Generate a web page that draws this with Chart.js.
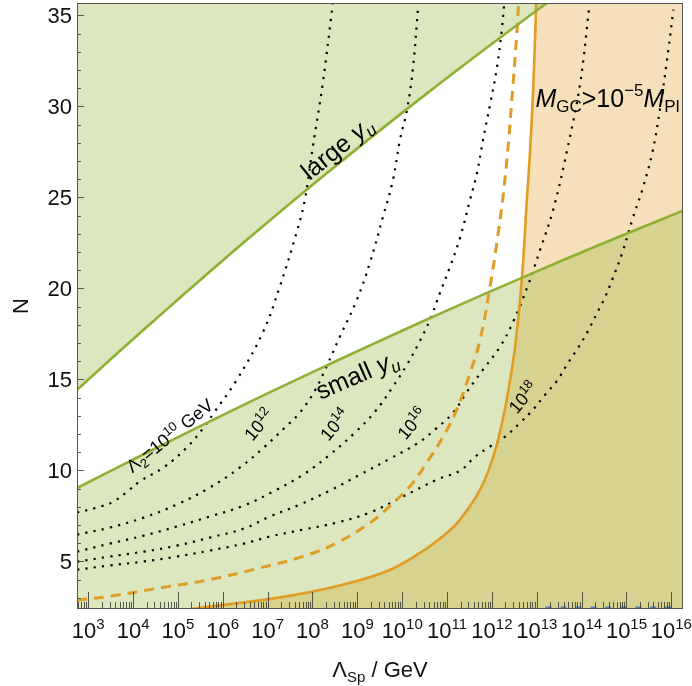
<!DOCTYPE html>
<html>
<head>
<meta charset="utf-8">
<script src="https://cdn.jsdelivr.net/npm/chart.js@4.4.1/dist/chart.umd.min.js"></script>
<style>
  html, body { margin: 0; padding: 0; background: #fff; }
</style>
</head>
<body>
<canvas id="chart" width="692" height="686"></canvas>
<script>
// Axis ranges: x is log10(Λ_Sp / GeV), y is N
const xExpMin = 2.75, xExpMax = 16.26;
const yMin = 2.38, yMax = 35.68;
const xTickExps = [3, 4, 5, 6, 7, 8, 9, 10, 11, 12, 13, 14, 15, 16];
const yTickValues = [5, 10, 15, 20, 25, 30, 35];

// "large y_u" boundary (region above is excluded)
const largeYuLog = [2.75, 3.810, 4.927, 6.044, 7.160, 8.276, 9.392, 10.509, 11.625, 12.741, 13.226];
const largeYuN   = [14.42, 16.79, 19.23, 21.63, 23.96, 26.24, 28.46, 30.63, 32.74, 34.80, 35.68];

// "small y_u" boundary (region below is excluded)
const smallYuLog = [2.75, 4.369, 6.044, 7.718, 9.392, 11.067, 12.741, 14.416, 16.262];
const smallYuN   = [9.03, 11.05, 13.09, 15.07, 16.99, 18.86, 20.66, 22.41, 24.27];

// M_GC > 1e-5 M_Pl boundary (solid orange)
const mgcLog = [5.306, 7.204, 8.537, 9.653, 10.397, 10.993, 11.29, 11.737, 12.033, 12.257, 12.406, 12.518, 12.667, 12.779, 12.853, 12.926, 12.987];
const mgcN   = [2.385, 2.99, 3.63, 4.45, 5.46, 6.56, 7.29, 8.94, 10.77, 12.97, 14.98, 16.81, 20.48, 24.87, 27.62, 31.29, 35.68];

// dashed orange curve
const dashLog = [2.75, 3.482, 4.599, 5.715, 6.831, 7.791, 8.537, 9.280, 9.801, 10.173, 10.546, 10.917, 11.216, 11.513, 11.737, 11.960, 12.109, 12.257, 12.368, 12.444, 12.556, 12.591];
const dashN   = [2.86, 3.08, 3.54, 4.0, 4.64, 5.27, 6.01, 7.11, 8.21, 9.12, 10.41, 11.87, 13.34, 15.35, 17.18, 20.11, 22.49, 25.24, 27.99, 30.37, 34.03, 35.49];

// Λ2 contours (dotted)
const l10Log = [2.75, 3.185, 3.565, 3.922, 4.145, 4.703, 5.195, 5.574, 5.820, 6.289, 6.892, 7.271, 7.651, 7.830, 8.008, 8.231, 8.455];
const l10N   = [7.68, 7.95, 8.28, 8.94, 9.38, 10.20, 11.25, 12.35, 13.23, 14.88, 17.57, 20.10, 23.12, 24.88, 27.79, 31.30, 35.70];
const l12Log = [2.75, 3.476, 4.235, 4.971, 5.708, 6.378, 6.936, 7.383, 7.718, 8.053, 8.321, 8.611, 8.991, 9.281, 9.572, 9.795, 9.951, 10.108, 10.242, 10.354];
const l12N   = [6.47, 6.85, 7.40, 8.12, 9.05, 10.15, 11.30, 12.35, 13.17, 14.38, 15.75, 17.35, 19.38, 21.41, 23.94, 25.97, 28.17, 29.82, 32.18, 35.42];
const l14Log = [2.75, 3.476, 4.235, 4.971, 5.708, 6.467, 7.204, 7.829, 8.387, 8.945, 9.392, 9.794, 10.107, 10.352, 10.620, 10.843, 11.066, 11.290, 11.513, 11.669, 11.803, 11.959, 12.115, 12.227, 12.272];
const l14N   = [5.53, 5.97, 6.41, 6.91, 7.46, 8.06, 8.94, 9.82, 10.86, 12.07, 13.22, 14.60, 15.81, 16.91, 18.28, 19.76, 21.19, 22.79, 24.87, 26.36, 28.17, 30.10, 32.18, 34.38, 35.59];
const l16Log = [2.75, 3.476, 4.235, 4.971, 5.708, 6.467, 7.048, 7.718, 8.388, 9.057, 9.727, 10.330, 10.732, 11.134, 11.447, 11.804, 12.183, 12.474, 12.809, 13.076, 13.366, 13.679, 13.969, 14.170];
const l16N   = [4.98, 5.26, 5.53, 5.86, 6.30, 6.80, 7.46, 8.12, 8.89, 9.76, 10.64, 11.47, 12.24, 13.17, 14.33, 15.54, 16.80, 18.17, 20.20, 22.13, 24.32, 27.62, 31.30, 35.48];
const l18Log = [2.75, 3.476, 4.235, 4.971, 5.708, 6.467, 7.048, 7.785, 8.544, 9.281, 10.017, 10.776, 11.290, 11.625, 11.960, 12.294, 12.629, 12.920, 13.187, 13.455, 13.701, 13.924, 14.147, 14.348, 14.527, 14.683, 14.907, 15.152, 15.353, 15.576, 15.755, 15.934, 16.045];
const l18N   = [4.54, 4.77, 4.99, 5.26, 5.59, 5.97, 6.36, 6.74, 7.13, 7.68, 8.56, 9.49, 9.98, 10.75, 11.31, 11.85, 12.62, 13.34, 14.16, 14.93, 15.92, 16.74, 17.68, 18.66, 19.54, 20.48, 21.96, 23.94, 25.42, 27.46, 29.98, 33.12, 35.32];

// faint blue curve hugging the bottom frame
const blueLog = [13.19, 16.09];
const blueN   = [2.45, 2.45];

const GREEN = '#8FB032', ORANGE = '#E19C24', BLUE = '#5E81B5';
const GREEN_FILL = 'rgba(143,176,50,0.31)', ORANGE_FILL = 'rgba(225,156,36,0.31)';

const pts = (lx, ny) => lx.map((v, i) => ({ x: Math.pow(10, v), y: ny[i] }));

// contour and region labels: anchor in data coords (log10 x, N)
const FONT = '"Liberation Sans", Arial, sans-serif';
const labels = [
  { lx: 4.815, n: 11.91, rot: -38.8, parts: [{t: 'Λ', s: 18}, {t: '2', s: 13, dy: 4}, {t: '=10', s: 18}, {t: '10', s: 13, dy: -7}, {t: ' GeV', s: 18}] },
  { lx: 6.802, n: 12.51, rot: -50, parts: [{t: '10', s: 18}, {t: '12', s: 13, dy: -7}] },
  { lx: 8.499, n: 12.51, rot: -50, parts: [{t: '10', s: 18}, {t: '14', s: 13, dy: -7}] },
  { lx: 10.218, n: 12.57, rot: -50, parts: [{t: '10', s: 18}, {t: '16', s: 13, dy: -7}] },
  { lx: 12.696, n: 14.0, rot: -50, parts: [{t: '10', s: 18}, {t: '18', s: 13, dy: -7}] },
  { lx: 8.544, n: 27.73, rot: -39, parts: [{t: 'large ', s: 25}, {t: 'y', s: 25, it: true}, {t: 'u', s: 17, dy: 5, it: true}] },
  { lx: 8.99, n: 15.26, rot: -23.5, parts: [{t: 'small ', s: 25}, {t: 'y', s: 25, it: true}, {t: 'u', s: 17, dy: 5, it: true}] }
];
const mgcLabel = { lx: 12.97, n: 29.98, parts: [{t: 'M', s: 25, it: true}, {t: 'GC', s: 17, dy: 5}, {t: '>10', s: 25}, {t: '−5', s: 17, dy: -11}, {t: 'M', s: 25, it: true}, {t: 'Pl', s: 17, dy: 5}] };

function fontOf(p) { return (p.it ? 'italic ' : '') + p.s + 'px ' + FONT; }

function drawParts(ctx, parts, x, y, align, rotDeg, midShift) {
  ctx.save();
  ctx.translate(x, y);
  if (rotDeg) ctx.rotate(rotDeg * Math.PI / 180);
  let w = 0;
  for (const p of parts) { ctx.font = fontOf(p); w += ctx.measureText(p.t).width; }
  let cx = align === 'center' ? -w / 2 : (align === 'right' ? -w : 0);
  ctx.textAlign = 'left';
  ctx.textBaseline = 'alphabetic';
  for (const p of parts) {
    ctx.font = fontOf(p);
    ctx.fillText(p.t, cx, (p.dy || 0) + (midShift || 0));
    cx += ctx.measureText(p.t).width;
  }
  ctx.restore();
}

const decor = {
  id: 'decor',
  afterDraw(chart) {
    const { ctx, chartArea: a, scales: { x, y } } = chart;
    ctx.save();
    ctx.fillStyle = '#000';

    // contour labels
    for (const l of labels) {
      const px = x.getPixelForValue(Math.pow(10, l.lx));
      const py = y.getPixelForValue(l.n);
      drawParts(ctx, l.parts, px, py, 'center', l.rot, l.parts[0].s * 0.35);
    }
    drawParts(ctx, mgcLabel.parts, x.getPixelForValue(Math.pow(10, mgcLabel.lx)), y.getPixelForValue(mgcLabel.n), 'left', 0, 0);

    // inward ticks
    ctx.strokeStyle = 'rgba(40,40,40,0.75)';
    ctx.lineWidth = 1;
    ctx.beginPath();
    for (let e = Math.floor(xExpMin); e <= Math.ceil(xExpMax); e++) {
      for (let k = 1; k <= 9; k++) {
        const lv = e + Math.log10(k);
        if (lv < xExpMin || lv > xExpMax) continue;
        const px = Math.round(x.getPixelForValue(Math.pow(10, lv))) + 0.5;
        const len = k === 1 ? 17 : 7;
        ctx.moveTo(px, a.bottom);
        ctx.lineTo(px, a.bottom - len);
      }
    }
    for (let n = Math.ceil(yMin); n <= Math.floor(yMax); n++) {
      const py = Math.round(y.getPixelForValue(n)) + 0.5;
      const len = n % 5 === 0 ? 7 : 4;
      ctx.moveTo(a.left, py);
      ctx.lineTo(a.left + len, py);
    }
    ctx.stroke();

    // frame
    ctx.strokeStyle = '#555';
    ctx.strokeRect(Math.round(a.left) + 0.5, Math.round(a.top) + 0.5, Math.round(a.right - a.left) - 1, Math.round(a.bottom - a.top) - 1);

    // tick labels
    ctx.fillStyle = '#111';
    for (const e of xTickExps) {
      const px = x.getPixelForValue(Math.pow(10, e));
      drawParts(ctx, [{t: '10', s: 22}, {t: String(e), s: 15, dy: -9}], px, 638, 'center', 0, 0);
    }
    for (const v of yTickValues) {
      const py = y.getPixelForValue(v);
      drawParts(ctx, [{t: String(v), s: 22}], 72, py + 8, 'right', 0, 0);
    }

    // axis titles
    drawParts(ctx, [{t: 'Λ', s: 22}, {t: 'Sp', s: 15, dy: 5}, {t: ' / GeV', s: 22}], (a.left + a.right) / 2, 677, 'center', 0, 0);
    drawParts(ctx, [{t: 'N', s: 22}], 28, (a.top + a.bottom) / 2, 'center', -90, 0);
    ctx.restore();
  }
};

const lineDs = (data, color, width, dash, order) => ({
  data, borderColor: color, borderWidth: width, borderDash: dash || [],
  pointRadius: 0, fill: false, tension: 0.4, order
});
const fillDs = (data, color, fill, order) => ({
  data, borderColor: 'rgba(0,0,0,0)', borderWidth: 1, backgroundColor: color,
  pointRadius: 0, fill, tension: 0.4, order
});

const DOT = [2.2, 6.2];
// close the orange region along the top edge (outside the plot area)
const mgcTop = Math.pow(10, mgcLog[mgcLog.length - 1]);
const mgcFillPts = pts(mgcLog, mgcN).concat([{ x: mgcTop, y: 45 }, { x: 1e17, y: 45 }]);

new Chart(document.getElementById('chart'), {
  type: 'line',
  data: {
    datasets: [
      lineDs(pts(largeYuLog, largeYuN), GREEN, 2.6, null, 1),
      lineDs(pts(smallYuLog, smallYuN), GREEN, 2.6, null, 1),
      lineDs(pts(mgcLog, mgcN), ORANGE, 2.6, null, 2),
      lineDs(pts(dashLog, dashN), ORANGE, 3, [10, 7], 2),
      lineDs(pts(l10Log, l10N), '#000', 2.2, DOT, 3),
      lineDs(pts(l12Log, l12N), '#000', 2.2, DOT, 3),
      lineDs(pts(l14Log, l14N), '#000', 2.2, DOT, 3),
      lineDs(pts(l16Log, l16N), '#000', 2.2, DOT, 3),
      lineDs(pts(l18Log, l18N), '#000', 2.2, DOT, 3),
      lineDs(pts(blueLog, blueN), BLUE, 2.5, [6, 9], 3),
      fillDs(pts(largeYuLog, largeYuN), GREEN_FILL, 'end', 10),
      fillDs(pts(smallYuLog, smallYuN), GREEN_FILL, 'start', 10),
      fillDs(mgcFillPts, ORANGE_FILL, 'start', 11)
    ]
  },
  options: {
    responsive: false,
    animation: false,
    devicePixelRatio: 1,
    layout: { padding: { left: 77, right: 9, top: 3, bottom: 77 } },
    plugins: {
      legend: { display: false },
      tooltip: { enabled: false },
      filler: { drawTime: 'beforeDatasetsDraw' }
    },
    scales: {
      x: { type: 'logarithmic', min: Math.pow(10, xExpMin), max: Math.pow(10, xExpMax), display: false },
      y: { type: 'linear', min: yMin, max: yMax, display: false }
    }
  },
  plugins: [decor]
});
</script>
</body>
</html>
